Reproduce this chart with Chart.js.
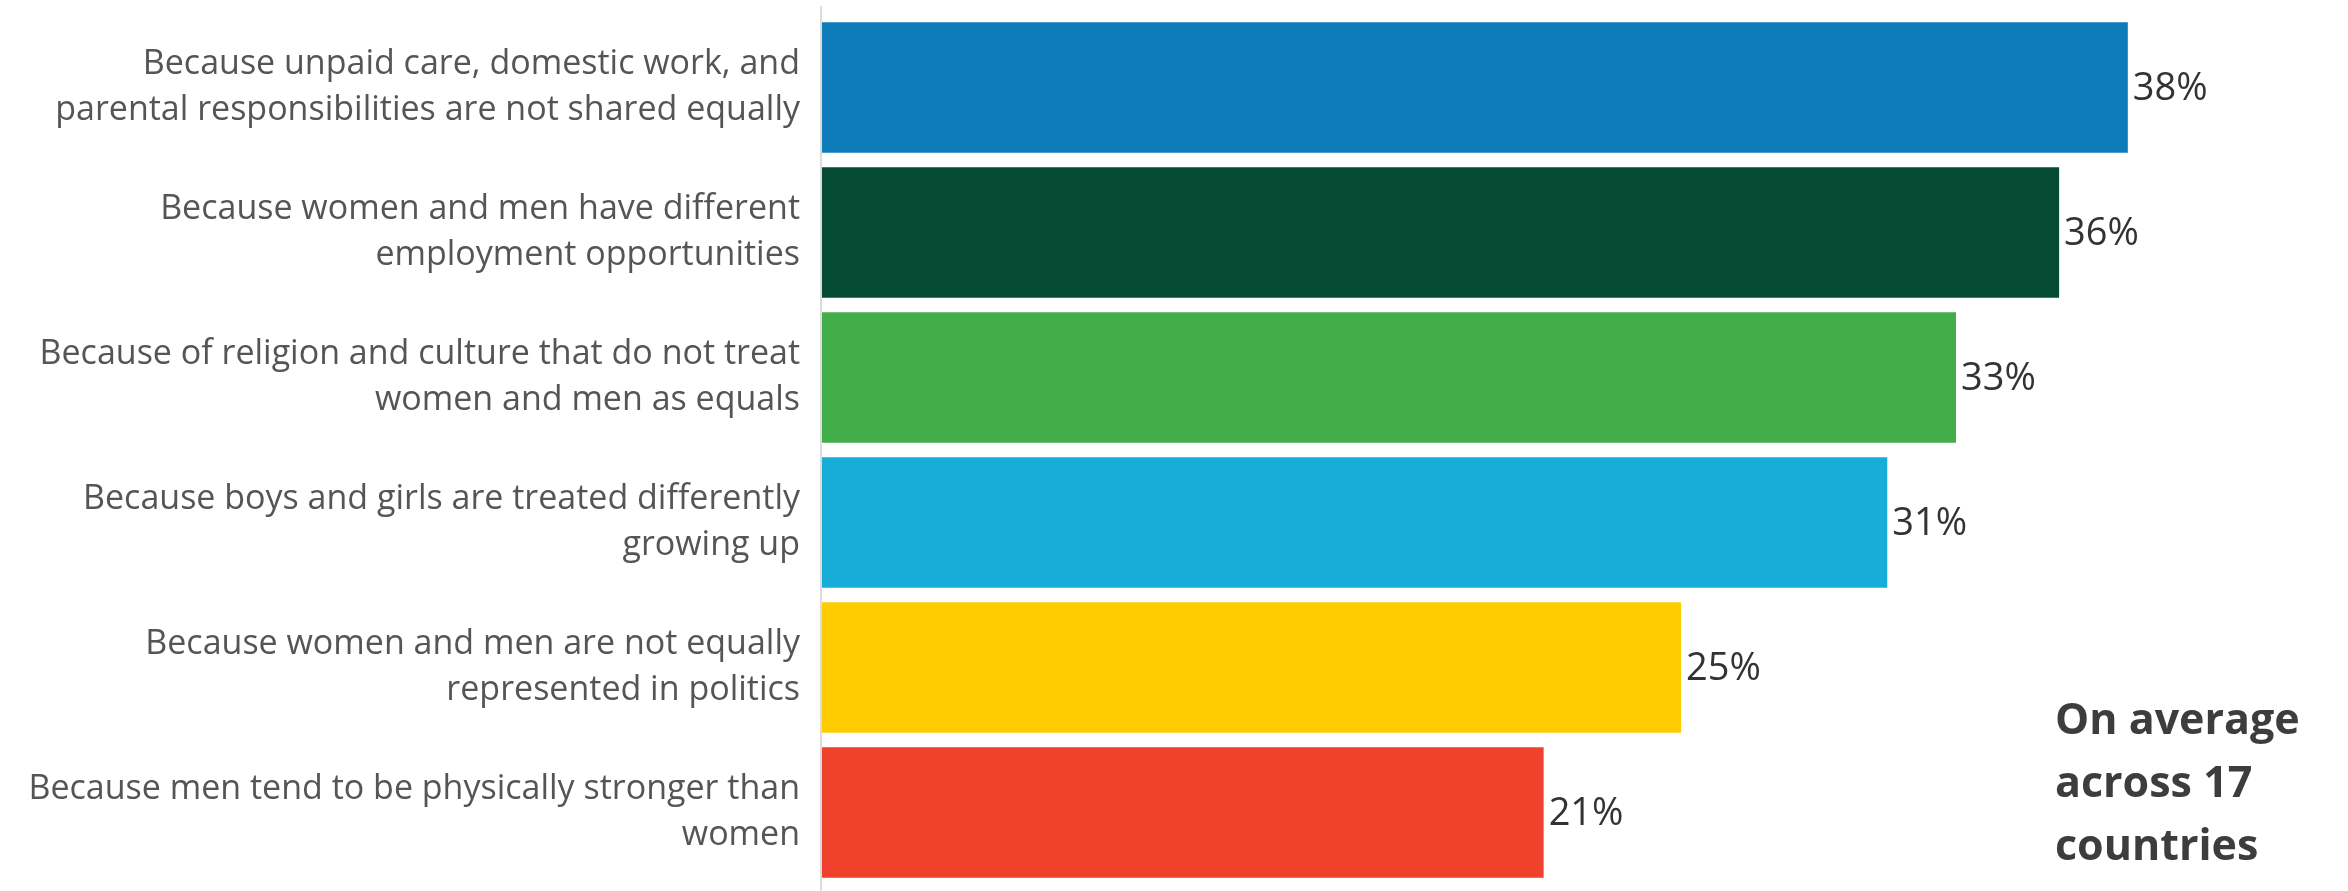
<!DOCTYPE html>
<html>
<head>
<meta charset="utf-8">
<script src="https://cdn.jsdelivr.net/npm/chart.js@4"></script>
<style>
  html, body { margin: 0; padding: 0; background: #fff; }
  #wrap { width: 2348px; height: 891px; }
</style>
</head>
<body>
<div id="wrap"><canvas id="reasonsChart"></canvas></div>
<script>
// Reasons for inequality (on average across 17 countries)
const categories = [
    ['Because unpaid care, domestic work, and', 'parental responsibilities are not shared equally'],
    ['Because women and men have different', 'employment opportunities'],
    ['Because of religion and culture that do not treat', 'women and men as equals'],
    ['Because boys and girls are treated differently', 'growing up'],
    ['Because women and men are not equally', 'represented in politics'],
    ['Because men tend to be physically stronger than', 'women']
];
const values = [38, 36, 33, 31, 25, 21];
const barColors = ['#0e7bbb', '#054a33', '#42ae4a', '#18acd8', '#fdcb00', '#ef412b'];
const noteLines = ['On average', 'across 17', 'countries'];

// % labels at the end of each bar
const valueLabels = {
    id: 'valueLabels',
    afterDatasetsDraw(chart) {
        const ctx = chart.ctx;
        const meta = chart.getDatasetMeta(0);
        ctx.save();
        ctx.font = '38px "Open Sans"';
        ctx.fillStyle = '#333333';
        ctx.textAlign = 'left';
        ctx.textBaseline = 'middle';
        meta.data.forEach((bar, i) => {
            ctx.fillText(values[i] + '%', bar.x + 5, bar.y + 2);
        });
        ctx.restore();
    }
};

// thin grey axis line + side note
const extras = {
    id: 'extras',
    beforeDatasetsDraw(chart) {
        const ctx = chart.ctx;
        const x = chart.chartArea.left;
        ctx.save();
        ctx.strokeStyle = '#dcdcdc';
        ctx.lineWidth = 2;
        ctx.beginPath();
        ctx.moveTo(x - 1, 6);
        ctx.lineTo(x - 1, chart.height);
        ctx.stroke();
        ctx.restore();
    },
    afterDraw(chart) {
        const ctx = chart.ctx;
        ctx.save();
        ctx.font = 'bold 43px "Open Sans"';
        ctx.fillStyle = '#3d3d3d';
        ctx.textAlign = 'left';
        ctx.textBaseline = 'middle';
        noteLines.forEach((t, i) => {
            ctx.fillText(t, 2055, 722 + i * 63);
        });
        ctx.restore();
    }
};

const ctxBar = document.getElementById('reasonsChart').getContext('2d');
new Chart(ctxBar, {
    type: 'bar',
    data: {
        labels: categories,
        datasets: [{
            data: values,
            backgroundColor: barColors,
            borderWidth: 0,
            categoryPercentage: 0.9,
            barPercentage: 1.0
        }]
    },
    options: {
        indexAxis: 'y',
        responsive: true,
        maintainAspectRatio: false,
        animation: false,
        layout: {
            padding: { top: 15, bottom: 6, left: 0, right: 14 }
        },
        scales: {
            x: {
                display: false,
                min: 0,
                max: 44
            },
            y: {
                afterFit(scale) {
                    scale.width = 822;
                    scale.paddingTop = 0;
                    scale.paddingBottom = 0;
                },
                grid: { display: false, drawTicks: false },
                border: { display: false },
                ticks: {
                    padding: 22,
                    color: '#555555',
                    font: { family: '"Open Sans"', size: 34, lineHeight: 1.36 }
                }
            }
        },
        plugins: {
            legend: { display: false },
            tooltip: { enabled: false }
        }
    },
    plugins: [valueLabels, extras]
});
</script>
</body>
</html>
